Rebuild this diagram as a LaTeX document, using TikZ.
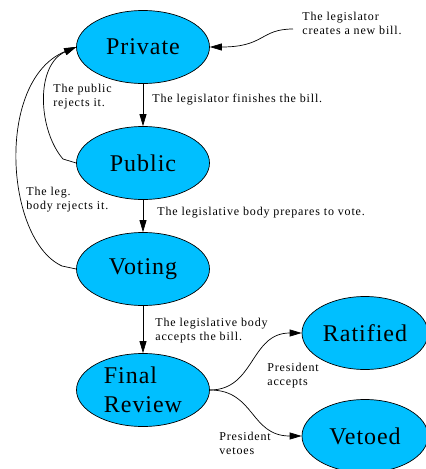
\documentclass[tikz,border=0pt]{standalone}
\usepackage{fontspec}
\setmainfont{Liberation Serif}
\newfontfamily\stagefont[LetterSpace=4]{Liberation Serif}
\newfontfamily\notefont[LetterSpace=7]{Liberation Serif}
\usetikzlibrary{shapes.geometric,arrows.meta}
\definecolor{stagefill}{HTML}{00BFFF}

\begin{document}
\begin{tikzpicture}[x=1pt,y=-1pt,line width=0.7pt,>={Triangle[length=12pt,width=7pt]},
    stage/.style={ellipse,draw,fill=stagefill,minimum width=133pt,minimum height=73pt,inner sep=0pt,
        align=left,font=\stagefont\fontsize{24}{29}\selectfont},
    note/.style={anchor=west,inner sep=0pt,align=left,font=\notefont\fontsize{12}{14}\selectfont}]
    \useasboundingbox (0,0) rectangle (426,469);
    % stages of the bill
    \node[stage] (private) at (143,47) {Private};
    \node[stage] (public) at (143,163) {Public};
    \node[stage] (voting) at (143,269) {Voting};
    \node[stage] (final) at (143,390) {Final\\Review};
    \node[stage,minimum width=126pt] (ratified) at (365,333) {Ratified};
    \node[stage,minimum width=126pt] (vetoed) at (365,436) {Vetoed};
    \coordinate (start) at (293,29);
    \coordinate (pubbend) at (63,159);
    \coordinate (votbend) at (62,266);
    % transitions
    \draw[->] (start) .. controls (260,29) and (265,47) .. (private.east);
    \draw[->] (private) -- (public);
    \draw[->] (public) -- (voting);
    \draw[->] (voting) -- (final);
    \draw[->] (public.west) -- (pubbend) .. controls (38,130) and (35,65) .. (private.west);
    \draw[->] (voting.west) -- (votbend) .. controls (5,240) and (-5,80) .. (private.west);
    \draw[->] (final.east) .. controls (255,390) and (250,333) .. (ratified.west);
    \draw[->] (final.east) .. controls (255,390) and (250,436) .. (vetoed.west);
    % labels
    \node[note] (lcreate) at (302,23) {The legislator\\creates a new bill.};
    \node[note] (lfinish) at (152,100) {The legislator finishes the bill.};
    \node[note] (lpublic) at (53,97) {The public\\rejects it.};
    \node[note] (lbody) at (26,200) {The leg.\\body rejects it.};
    \node[note] (lvote) at (157,213) {The legislative body prepares to vote.};
    \node[note] (laccept) at (155,331) {The legislative body\\accepts the bill.};
    \node[note] (lpres) at (267,376) {President\\accepts};
    \node[note] (lveto) at (219,443) {President\\vetoes};
\end{tikzpicture}
\end{document}
